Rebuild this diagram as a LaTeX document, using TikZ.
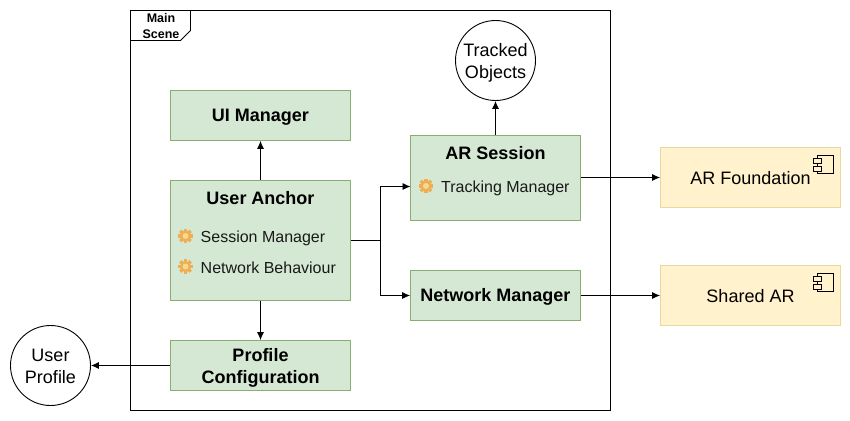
\documentclass[tikz,border=0pt]{standalone}
\usepackage{fontspec}
\setmainfont{Liberation Sans}
\usetikzlibrary{arrows.meta,calc}
\definecolor{gfill}{HTML}{D5E8D4}
\definecolor{gline}{HTML}{88AE72}
\definecolor{yfill}{HTML}{FFF2CC}
\definecolor{yline}{HTML}{E8D9A0}
\definecolor{gearout}{HTML}{EDAE55}
\definecolor{gearin}{HTML}{F7D98A}
\tikzset{
  x=1pt,y=-1pt,
  gbox/.style={draw=gline,fill=gfill,line width=0.8pt,minimum width=#1,inner sep=0pt},
  gbox/.default=180pt,
  ybox/.style={draw=yline,fill=yfill,line width=0.8pt,minimum width=180pt,minimum height=60pt,inner sep=0pt},
  circ/.style={draw=black,fill=white,circle,line width=0.9pt,minimum size=80pt,inner sep=0pt},
  arr/.style={draw=black,line width=0.9pt,-{Latex[length=8pt,width=7pt]}},
  plain/.style={draw=black,line width=0.9pt},
  lbl/.style={inner sep=0pt,anchor=west,font=\fontsize{16}{20}\selectfont,text=black!90},
  ttl/.style={inner sep=0pt,align=center,font=\fontsize{18}{22}\selectfont\bfseries},
  reg/.style={inner sep=0pt,align=center,font=\fontsize{18}{22}\selectfont},
  gearbit/.style={fill=gearout,draw=none},
  gearcore/.style={fill=gearin,draw=none},
  pics/gearicon/.style={code={
    \foreach \a in {0,45,...,315}{\fill[gearbit,rotate=\a] (-1.6,-7.4) rectangle (1.6,0);}
    \fill[gearbit] (0,0) circle (5.6);
    \fill[gearcore] (0,0) circle (3);
  }},
  compicon/.style={draw=black,fill=none,line width=0.8pt},
  pics/compsym/.style={code={
    \draw[compicon,fill=yfill] (-8,-9) rectangle (8,9);
    \draw[compicon,fill=yfill] (-12,-6) rectangle (-4,-1);
    \draw[compicon,fill=yfill] (-12,2) rectangle (-4,7);
  }}
}
\begin{document}
\begin{tikzpicture}
\useasboundingbox (0,0) rectangle (850,420);
\fill[white] (0,0) rectangle (850,420);
% frame
\draw[line width=0.9pt,fill=white] (130.5,10.5) rectangle (610.5,410.5);
\draw[line width=0.9pt] (130.5,40.5) -- (180.5,40.5) -- (190.5,30.5) -- (190.5,10.5);
\node[inner sep=0pt,align=center,font=\fontsize{12.5}{16}\selectfont\bfseries] (fr) at (161,26) {Main\\Scene};
% boxes
\node[gbox,minimum height=50pt] (ui) at (260.5,115.5) {};
\node[ttl] (uit) at (260.5,117.5) {UI Manager};
\node[gbox,minimum height=120pt] (ua) at (260.5,240.5) {};
\node[ttl] (uat) at (260.5,198) {User Anchor};
\node[lbl] (ua1) at (200.5,238) {Session Manager};
\node[lbl] (ua2) at (200.5,267.5) {Network Behaviour};
\pic at (185.5,236) {gearicon};
\pic at (185.5,266.5) {gearicon};
\node[gbox,minimum height=50pt] (pc) at (260.5,365.5) {};
\node[ttl] (pct) at (260.5,368) {Profile\\Configuration};
\node[gbox=170pt,minimum height=85pt] (ar) at (495.5,177.5) {};
\node[ttl] (art) at (495.5,153) {AR Session};
\node[lbl] (ar1) at (441,188) {Tracking Manager};
\pic at (426,186) {gearicon};
\node[gbox=170pt,minimum height=50pt] (nm) at (495.5,295.5) {};
\node[ttl] (nmt) at (495.5,297) {Network Manager};
\node[circ] (to) at (495.5,60.5) {};
\node[reg] (tot) at (495.5,62.5) {Tracked\\Objects};
\node[circ] (up) at (50.5,365.5) {};
\node[reg] (upt) at (50.5,366) {User\\Profile};
\node[ybox] (af) at (750.5,177.5) {};
\node[reg] (aft) at (750.5,178.5) {AR Foundation};
\node[ybox] (sa) at (750.5,295.5) {};
\node[reg] (sat) at (750.5,296.5) {Shared AR};
\pic at (825,164) {compsym};
\pic at (825,282) {compsym};
% connectors
\coordinate (jn) at (380.5,240.5);
\coordinate (arin) at (410.5,186.5);
\draw[arr] (ua.north) -- (ui.south);
\draw[arr] (ua.south) -- (pc.north);
\draw[plain] (ua.east) -- (jn);
\draw[arr] (jn) |- (arin);
\draw[arr] (jn) |- (nm.west);
\draw[arr] (ar.north) -- (to.south);
\draw[arr] (ar.east) -- (af.west);
\draw[arr] (nm.east) -- (sa.west);
\draw[arr] (pc.west) -- (up.east);
\end{tikzpicture}
\end{document}
